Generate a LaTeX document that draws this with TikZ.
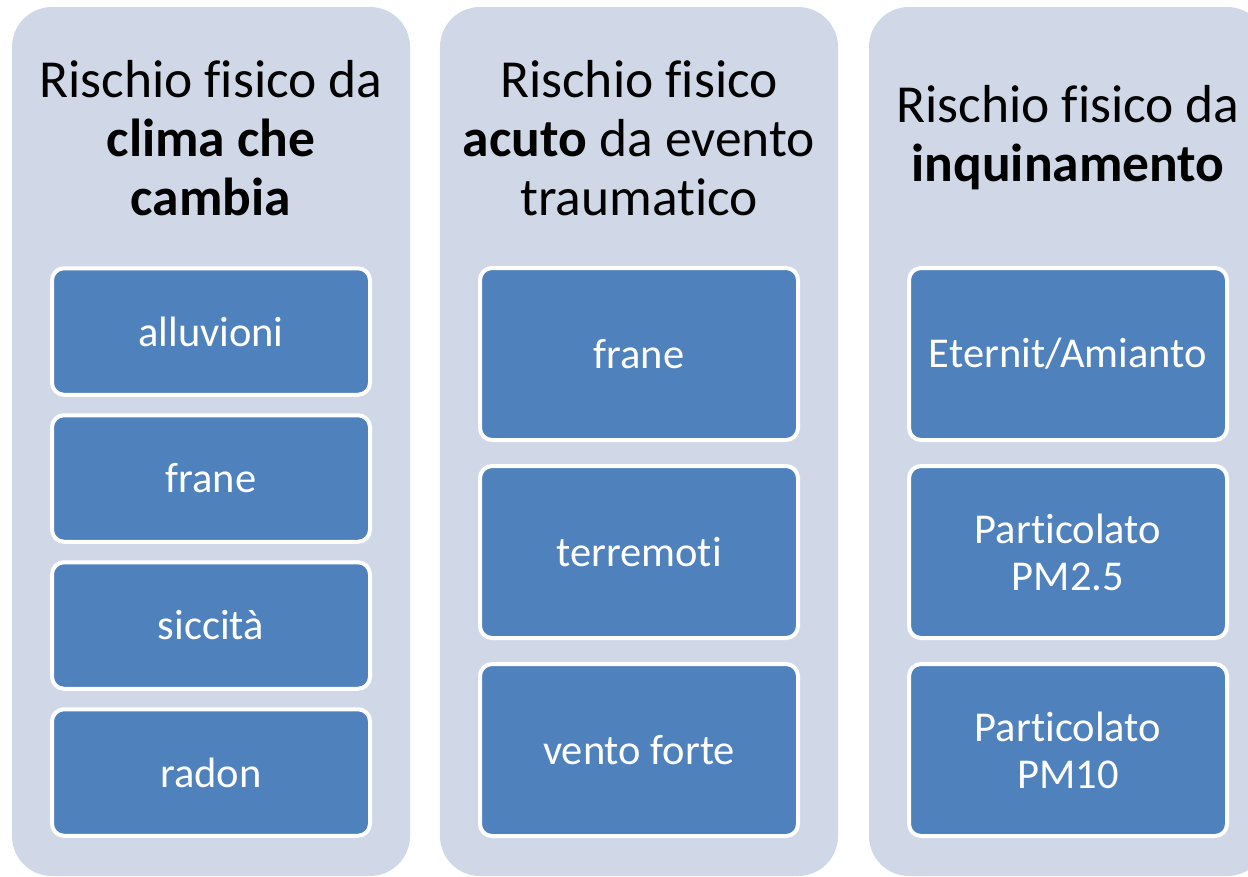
\documentclass[tikz,border=0pt]{standalone}
\usepackage{fontspec}
\setmainfont[Ligatures=NoCommon]{Carlito}
\usepackage{tikz}
\usetikzlibrary{positioning}
\definecolor{bgblue}{HTML}{D0D8E8}
\definecolor{boxblue}{HTML}{4F81BD}

\tikzset{
  colbg/.style={fill=bgblue, rounded corners=40pt, minimum width=398pt, minimum height=869pt, inner sep=0pt},
  riskbox/.style={fill=boxblue, draw=white, line width=4pt, rounded corners=12pt,
    minimum width=318pt, inner sep=0pt, text=white, align=center,
    font=\fontsize{42.5}{47}\selectfont},
  head/.style={align=center, inner sep=0pt, font=\fontsize{53.5}{59}\selectfont}
}

\begin{document}
\begin{tikzpicture}[x=1pt,y=-1pt]
  \useasboundingbox (0,0) rectangle (1248,876);
  \clip (0,0) rectangle (1248,876);
  % colonne
  \node[colbg] (clima) at (211,441.5) {};
  \node[colbg] (acuto) at (639,441.5) {};
  \node[colbg] (inquin) at (1068,441.5) {};
  % titoli
  \node[head] (hclima) at (211,138) {Rischio fisico da\\\textbf{clima che}\\\textbf{cambia}};
  \node[head] (hacuto) at (639,138) {Rischio fisico\\\textbf{acuto} da evento\\traumatico};
  \node[head] (hinquin) at (1068,138) {Rischio fisico da\\\textbf{inquinamento}};
  % clima che cambia
  \node[riskbox, minimum height=126.5pt] (alluvioni) at (211,331.5) {alluvioni};
  \node[riskbox, minimum height=126.5pt] (frane) at (211,478.5) {frane};
  \node[riskbox, minimum height=126.5pt] (siccita) at (211,625.5) {siccità};
  \node[riskbox, minimum height=126.5pt] (radon) at (211,772.5) {radon};
  % acuto
  \node[riskbox, minimum height=172pt] (frane2) at (639,354) {frane};
  \node[riskbox, minimum height=172pt] (terremoti) at (639,552) {terremoti};
  \node[riskbox, minimum height=172pt] (vento) at (639,750) {vento forte};
  % inquinamento
  \node[riskbox, minimum height=172pt] (eternit) at (1068,354) {Eternit/Amianto};
  \node[riskbox, minimum height=172pt] (pmdue) at (1068,552) {Particolato\\PM2.5};
  \node[riskbox, minimum height=172pt] (pmdieci) at (1068,750) {Particolato\\PM10};
\end{tikzpicture}
\end{document}
